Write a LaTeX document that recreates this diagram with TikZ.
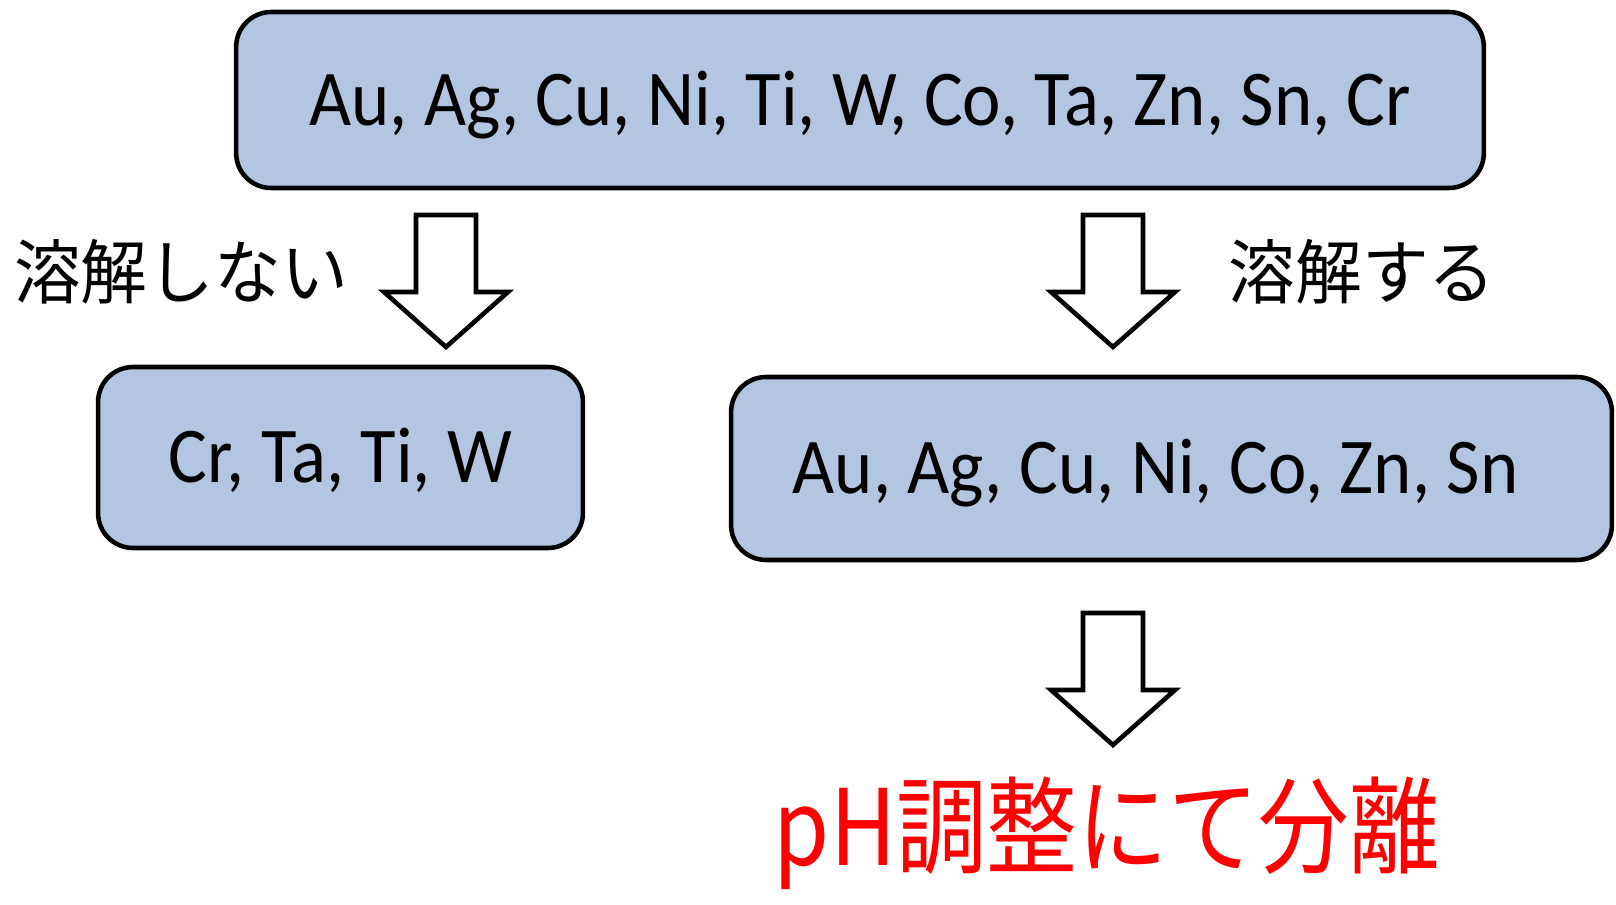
\documentclass[tikz,border=0pt]{standalone}
\usepackage{fontspec}
\setmainfont{Carlito}[FakeStretch=0.92]
\newfontfamily\jpfont{Noto Sans CJK JP}[FakeStretch=0.95]
\newfontfamily\jpredfont{Noto Sans CJK JP}[FakeStretch=0.86]
\definecolor{boxblue}{RGB}{178,198,226}
\tikzset{
  metalbox/.style={draw=black, line width=2.6pt, fill=boxblue, rounded corners=0.7cm,
    inner sep=0pt, text height=29pt, text depth=0pt, font=\fontsize{45}{50}\selectfont},
  downarrow/.style={draw=black, line width=2.6pt, fill=white, line join=miter},
  jplabel/.style={font=\jpfont\fontsize{40}{44}\selectfont, inner sep=0pt}
}
\begin{document}
\begin{tikzpicture}[x=0.02cm, y=-0.02cm]
  \useasboundingbox (0,0) rectangle (1616,905);

  % boxes
  \node[metalbox, minimum width=24.96cm, minimum height=3.52cm] (all) at (860,100)
    {Au, Ag, Cu, Ni, Ti, W, Co, Ta, Zn, Sn, Cr};
  \node[metalbox, minimum width=9.7cm, minimum height=3.62cm] (rest) at (340.5,457.5)
    {Cr, Ta, Ti, W};
  \node[metalbox, minimum width=17.62cm, minimum height=3.66cm] (sol) at (1171.5,468.5)
    {\hspace*{-0.64cm}Au, Ag, Cu, Ni, Co, Zn, Sn};

  % block arrows
  \foreach \name/\x/\y in {arrL/446/215, arrR/1113/215, arrD/1113/613}{
    \coordinate (\name) at (\x,\y);
  }
  \foreach \name in {arrL,arrR,arrD}{
    \draw[downarrow] (\name) ++(-30,0) -- ++(60,0) -- ++(0,77) -- ++(32,0)
      -- ++(-62,55) -- ++(-62,-55) -- ++(32,0) -- cycle;
  }

  % labels
  \node[jplabel] (insol) at (181,272) {溶解しない};
  \node[jplabel] (dissol) at (1362,272) {溶解する};
  \node[font=\jpredfont\fontsize{60}{64}\selectfont, text=red, inner sep=0pt] (sep) at (1107,833)
    {pH調整にて分離};
\end{tikzpicture}
\end{document}
